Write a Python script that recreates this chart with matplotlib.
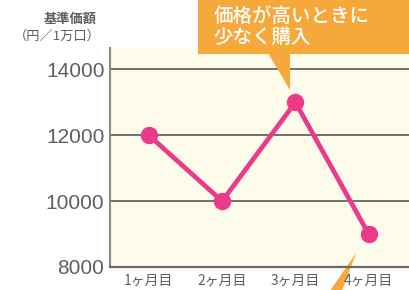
import matplotlib
matplotlib.use('Agg')
import matplotlib.pyplot as plt
from matplotlib.patches import Polygon, Rectangle

# data
months = ['1ヶ月目', '2ヶ月目', '3ヶ月目', '4ヶ月目']
price = [12000, 10000, 13000, 9000]
yticks = [8000, 10000, 12000, 14000]

pink = '#EC3A8A'
orange = '#F7A83A'
cream = '#FDFBEA'
grey_txt = '#5f5f5f'

fig = plt.figure(figsize=(4.09, 2.90), dpi=100)
fig.patch.set_facecolor('white')
ax = fig.add_axes([110 / 409, 23 / 290, 299 / 409, 219 / 290])
ax.set_facecolor(cream)

x = list(range(1, len(months) + 1))
ax.set_xlim(0.47, 4.55)
ax.set_ylim(8000, 14650)

for v in yticks[1:]:
    ax.axhline(v, color='#707068', lw=1.4, zorder=1)

ax.plot(x, price, color=pink, lw=3.4, marker='o', ms=11.5,
        markerfacecolor=pink, markeredgecolor=pink, zorder=3)

ax.set_yticks(yticks)
ax.set_yticklabels([str(v) for v in yticks], family='Liberation Sans',
                   fontsize=15, color=grey_txt)
ax.set_xticks(x)
ax.set_xticklabels(months, family='Noto Sans CJK JP', fontsize=10,
                   color=grey_txt)
ax.tick_params(axis='both', length=0)
ax.tick_params(axis='y', pad=4)
ax.tick_params(axis='x', pad=5)

for s in ['top', 'right']:
    ax.spines[s].set_visible(False)
ax.spines['left'].set_color('#8a8a80')
ax.spines['left'].set_linewidth(1.5)
ax.spines['bottom'].set_color('#6a6a62')
ax.spines['bottom'].set_linewidth(1.6)

# axis title top-left
fig.text(70 / 409, 1 - 19 / 290, '基準価額', family='Noto Sans CJK JP',
         fontsize=9.5, color=grey_txt, ha='center', va='center',
         weight='bold')
fig.text(57 / 409, 1 - 36 / 290, '（円／1万口）', family='Noto Sans CJK JP',
         fontsize=9.5, color=grey_txt, ha='center', va='center')

# callout above the 3rd point
x3, y3 = x[2], price[2]
box = Rectangle((1.67, 14480), 3.0, 1700, facecolor=orange, edgecolor='none',
                clip_on=False, zorder=5)
ax.add_patch(box)
tip = Polygon([(2.62, 14490), (2.93, 14490), (x3 - 0.07, y3 + 380)],
              closed=True, facecolor=orange, edgecolor='none',
              clip_on=False, zorder=5)
ax.add_patch(tip)
ax.text(1.88, 15290, '価格が高いときに\n少なく購入', family='Noto Sans CJK JP',
        fontsize=14, color='white', ha='left', va='center', weight='medium',
        linespacing=1.2, zorder=6, clip_on=False)

# pointer of another callout coming from below (drawn under tick labels)
x4, y4 = x[3], price[3]
tip2 = Polygon([(3.48, 7300), (3.64, 7300), (x4 - 0.17, y4 - 570)],
               closed=True, facecolor=orange, edgecolor='none',
               clip_on=False, zorder=1.2)
ax.add_patch(tip2)

fig.savefig('out.png', dpi=100)
